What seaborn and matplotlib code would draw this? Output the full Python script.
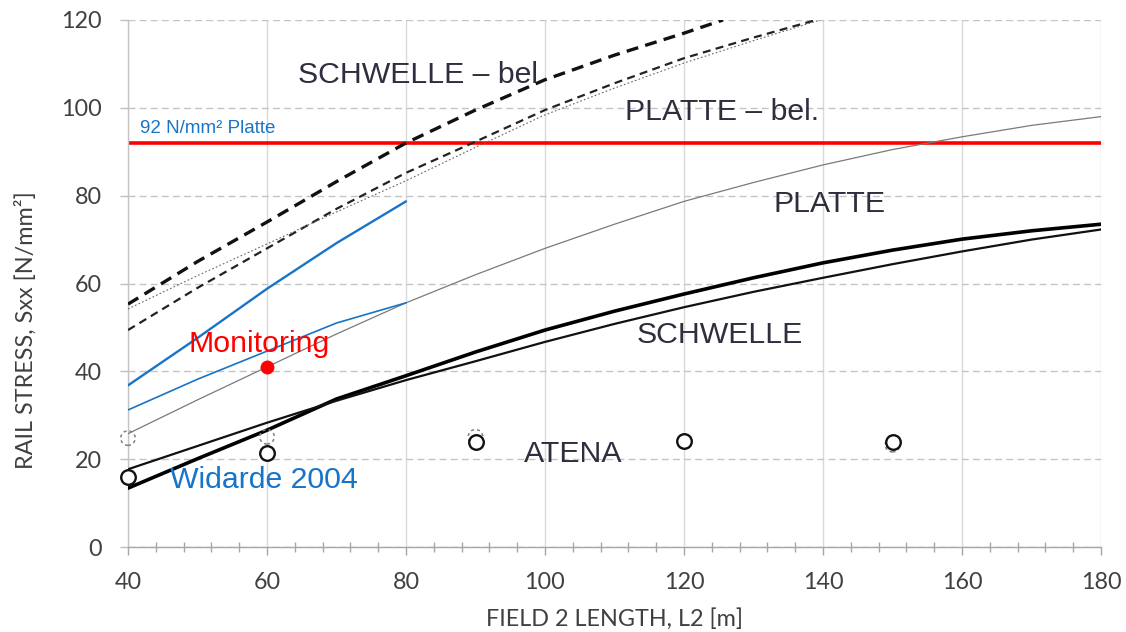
import matplotlib
matplotlib.use("Agg")
import matplotlib.pyplot as plt
import seaborn as sns
import pandas as pd
from matplotlib.ticker import MultipleLocator

# ---------------- data ----------------
x_full = [40, 50, 60, 70, 80, 90, 100, 110, 120, 130, 140, 150, 160, 170, 180]
platte = [25.8, 33.5, 41.0, 48.5, 55.6, 62.0, 68.0, 73.5, 78.7, 83.0, 87.0, 90.5, 93.4, 96.0, 98.0]
schwelle_thick = [13.4, 20.1, 26.6, 33.7, 39.0, 44.4, 49.4, 53.7, 57.6, 61.3, 64.7, 67.6, 70.1, 72.0, 73.5]
schwelle_thin = [17.7, 23.0, 28.3, 33.3, 38.0, 42.3, 46.7, 50.8, 54.6, 58.1, 61.3, 64.4, 67.3, 70.0, 72.3]

x_schwelle_bel = [40, 50, 60, 70, 80, 90, 100, 110, 120, 125.6]
schwelle_bel = [55.3, 65.0, 74.0, 83.2, 92.0, 99.5, 106.4, 112.0, 117.0, 120.0]

x_platte_bel_dash = [40, 50, 60, 70, 80, 90, 100, 110, 120, 130, 139]
platte_bel_dash = [49.4, 59.0, 68.0, 77.0, 85.2, 92.3, 99.5, 105.6, 111.3, 116.0, 120.0]
x_platte_bel_dot = [40, 50, 60, 70, 80, 90, 100, 110, 120, 130, 139.6]
platte_bel_dot = [54.2, 61.8, 69.0, 76.3, 83.4, 91.0, 98.4, 104.5, 110.2, 115.3, 120.0]

x_widarde = [40, 50, 60, 70, 80]
widarde_upper = [36.8, 47.6, 58.8, 69.2, 78.7]
widarde_lower = [31.2, 38.2, 44.6, 51.0, 55.6]

atena_x = [40, 60, 90, 120, 150]
atena_y = [16.0, 21.5, 24.0, 24.2, 23.9]
atena2_x = [40, 60, 90, 150]
atena2_y = [24.8, 25.1, 25.1, 23.3]

monitoring_x = [60]
monitoring_y = [41.0]

ref_stress = 92
ref_label = "92 N/mm² Platte"

x_ticks = [40, 60, 80, 100, 120, 140, 160, 180]
y_ticks = [0, 20, 40, 60, 80, 100, 120]

# ---------------- build long table ----------------
frames = []
def add(name, xs, ys):
    frames.append(pd.DataFrame({"x": xs, "y": ys, "series": name}))

add("schwelle_bel", x_schwelle_bel, schwelle_bel)
add("platte_bel_dash", x_platte_bel_dash, platte_bel_dash)
add("platte_bel_dot", x_platte_bel_dot, platte_bel_dot)
add("platte", x_full, platte)
add("schwelle_thick", x_full, schwelle_thick)
add("schwelle_thin", x_full, schwelle_thin)
add("widarde_upper", x_widarde, widarde_upper)
add("widarde_lower", x_widarde, widarde_lower)
df = pd.concat(frames, ignore_index=True)

blue = "#1874c8"
palette = {
    "schwelle_bel": "#111111",
    "platte_bel_dash": "#222222",
    "platte_bel_dot": "#666666",
    "platte": "#7a7a7a",
    "schwelle_thick": "#000000",
    "schwelle_thin": "#111111",
    "widarde_upper": blue,
    "widarde_lower": blue,
}
sizes = {
    "schwelle_bel": 2.4,
    "platte_bel_dash": 1.6,
    "platte_bel_dot": 0.8,
    "platte": 0.9,
    "schwelle_thick": 2.6,
    "schwelle_thin": 1.6,
    "widarde_upper": 1.7,
    "widarde_lower": 1.2,
}
dashes = {
    "schwelle_bel": (3.6, 2.2),
    "platte_bel_dash": (3.6, 2.4),
    "platte_bel_dot": (1.5, 2.0),
    "platte": "",
    "schwelle_thick": "",
    "schwelle_thin": "",
    "widarde_upper": "",
    "widarde_lower": "",
}

# ---------------- figure ----------------
sns.set_style("white")
plt.rcParams["font.family"] = ["Lato", "DejaVu Sans"]

fig = plt.figure(figsize=(11.26, 6.32), dpi=100)
ax = fig.add_axes([128 / 1126, 1 - 547 / 632, 973 / 1126, 527 / 632])

ax.axhline(ref_stress, color="#ff0000", lw=2.6, zorder=2)

sns.lineplot(data=df, x="x", y="y", hue="series", size="series", style="series",
             palette=palette, sizes=sizes, dashes=dashes, estimator=None,
             sort=False, legend=False, ax=ax, zorder=3)

sns.scatterplot(x=atena2_x, y=atena2_y, marker="o", s=110, facecolors="none",
                edgecolors="#808080", linewidths=1.1, linestyles=(0, (2, 2)),
                ax=ax, zorder=4, clip_on=False)
sns.scatterplot(x=atena_x, y=atena_y, marker="o", s=110, facecolors="white",
                edgecolors="#111111", linewidths=1.7, ax=ax, zorder=5, clip_on=False)
sns.scatterplot(x=monitoring_x, y=monitoring_y, marker="o", s=90, color="#ff0000",
                edgecolor="#ff0000", linewidth=0.5, ax=ax, zorder=6, clip_on=False)

# axes styling
ax.set_xlim(40, 180)
ax.set_ylim(0, 120)
ax.set_xticks(x_ticks)
ax.set_yticks(y_ticks)
ax.xaxis.set_minor_locator(MultipleLocator(4))
ax.set_axisbelow(True)
ax.xaxis.grid(True, which="major", color="#d9d9d9", lw=1.0, ls="-")
ax.yaxis.grid(True, which="major", color="#c4c4c4", lw=1.0, ls=(0, (5, 3)))
for s in ["top", "right"]:
    ax.spines[s].set_visible(False)
ax.spines["left"].set_color("#c4c4c4")
ax.spines["bottom"].set_color("#a6a6a6")
ax.spines["left"].set_linewidth(1.0)
ax.spines["bottom"].set_linewidth(1.0)

tick_color = "#404040"
ax.tick_params(axis="x", which="major", direction="out", length=6, width=1,
               color="#a6a6a6", pad=12, labelsize=16.8, labelcolor=tick_color, bottom=True)
ax.tick_params(axis="x", which="minor", direction="inout", length=7, width=1,
               color="#a6a6a6", bottom=True)
ax.tick_params(axis="y", which="major", direction="out", length=6, width=1,
               color="#bfbfbf", pad=12.9, labelsize=16.8, labelcolor=tick_color, left=True)

ax.set_xlabel("FIELD 2 LENGTH, L2 [m]", fontsize=16.8, color=tick_color)
ax.set_ylabel("RAIL STRESS, Sxx [N/mm²]", fontsize=16.8, color=tick_color)
ax.xaxis.set_label_coords(0.5, -0.115)
ax.yaxis.set_label_coords(-0.0935, 0.412)

# annotations
tc = "#2e2e3e"
afont = ["Liberation Sans", "DejaVu Sans"]
fs = 21.8
ax.text(64.4, 105.7, "SCHWELLE – bel", fontsize=fs, color=tc, family=afont, va="baseline", zorder=7)
ax.text(111.5, 97.3, "PLATTE – bel.", fontsize=fs, color=tc, family=afont, va="baseline", zorder=7)
ax.text(132.9, 76.2, "PLATTE", fontsize=fs, color=tc, family=afont, va="baseline", zorder=7)
ax.text(113.2, 46.5, "SCHWELLE", fontsize=fs, color=tc, family=afont, va="baseline", zorder=7)
ax.text(97.0, 19.4, "ATENA", fontsize=fs, color=tc, family=afont, va="baseline", zorder=7)
ax.text(48.7, 44.5, "Monitoring", fontsize=fs, color="#ff0000", family=afont, va="baseline", zorder=7)
ax.text(46.1, 13.4, "Widarde 2004", fontsize=fs, color=blue, family=afont, va="baseline", zorder=7)
ax.text(41.7, 94.2, ref_label, fontsize=13.5, color=blue, family=afont, va="baseline", zorder=7)

fig.savefig("out.png", dpi=100)
